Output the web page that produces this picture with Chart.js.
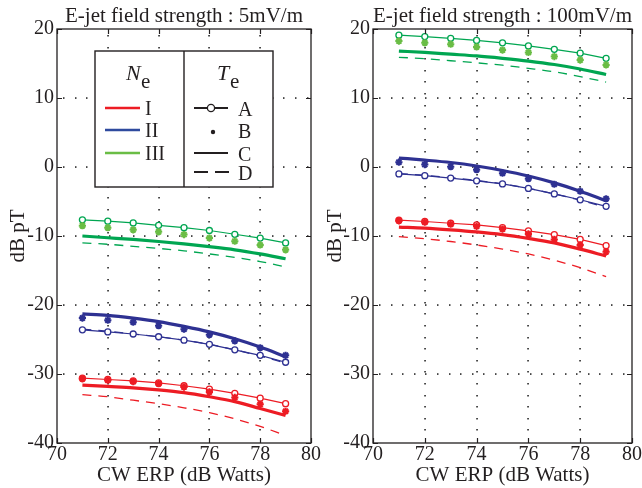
<!DOCTYPE html>
<html>
<head>
<meta charset="utf-8">
<script src="https://cdn.jsdelivr.net/npm/chart.js@4.4.1/dist/chart.umd.min.js"></script>
<style>
  html, body { margin: 0; padding: 0; background: #fff; }
  #wrap { position: relative; width: 642px; height: 488px; }
  canvas { position: absolute; top: 0; }
</style>
</head>
<body>
<div id="wrap">
  <canvas id="weak" width="321" height="488" style="left:0"></canvas>
  <canvas id="strong" width="321" height="488" style="left:321px"></canvas>
</div>
<script>
// x positions (CW ERP, dB Watts)
const erp = [71, 72, 73, 74, 75, 76, 77, 78, 79];
const xTicks = [70, 72, 74, 76, 78, 80];
const yTicks = [-40, -30, -20, -10, 0, 10, 20];
const neLabels = ['I', 'II', 'III'];
const teLabels = ['A', 'B', 'C', 'D'];

// E-jet 5 mV/m
const redA5   = [-30.6, -30.8, -31.0, -31.3, -31.7, -32.2, -32.8, -33.5, -34.3];
const redB5   = [-30.7, -30.9, -31.1, -31.4, -31.9, -32.6, -33.4, -34.4, -35.4];
const redC5   = [-31.6, -31.8, -32.0, -32.3, -32.7, -33.3, -34.0, -35.0, -36.0];
const redD5   = [-33.0, -33.3, -33.8, -34.3, -34.9, -35.6, -36.5, -37.6, -38.9];
const blueA5  = [-23.6, -23.9, -24.2, -24.6, -25.1, -25.7, -26.5, -27.3, -28.3];
const blueB5  = [-21.9, -22.2, -22.5, -23.0, -23.5, -24.3, -25.2, -26.2, -27.3];
const blueC5  = [-21.3, -21.5, -21.9, -22.4, -23.1, -23.9, -24.9, -26.1, -27.5];
const blueD5  = [-23.5, -23.8, -24.2, -24.6, -25.1, -25.7, -26.5, -27.4, -28.4];
const greenA5 = [-7.65, -7.85, -8.1, -8.45, -8.8, -9.2, -9.75, -10.3, -11.0];
const greenB5 = [-8.5, -8.8, -9.1, -9.4, -9.8, -10.3, -10.75, -11.3, -12.0];
const greenC5 = [-10.0, -10.25, -10.5, -10.8, -11.15, -11.55, -12.0, -12.6, -13.3];
const greenD5 = [-11.0, -11.2, -11.5, -11.8, -12.15, -12.6, -13.1, -13.7, -14.5];

// E-jet 100 mV/m
const redA100   = [-7.7, -7.9, -8.15, -8.4, -8.8, -9.25, -9.8, -10.5, -11.4];
const redB100   = [-7.8, -8.0, -8.3, -8.6, -9.0, -9.7, -10.5, -11.3, -12.3];
const redC100   = [-8.7, -8.85, -9.1, -9.4, -9.8, -10.35, -11.0, -11.9, -12.9];
const redD100   = [-10.1, -10.4, -10.8, -11.3, -11.9, -12.6, -13.5, -14.6, -15.9];
const blueA100  = [-1.0, -1.25, -1.6, -2.0, -2.45, -3.1, -3.9, -4.75, -5.7];
const blueB100  = [0.7, 0.35, 0.05, -0.4, -0.9, -1.7, -2.5, -3.5, -4.6];
const blueC100  = [1.3, 1.0, 0.65, 0.15, -0.5, -1.3, -2.3, -3.5, -4.9];
const blueD100  = [-0.95, -1.2, -1.55, -1.95, -2.45, -3.1, -3.9, -4.8, -5.85];
const greenA100 = [19.1, 18.9, 18.65, 18.35, 18.0, 17.55, 17.05, 16.5, 15.75];
const greenB100 = [18.25, 18.0, 17.8, 17.4, 16.95, 16.6, 16.0, 15.5, 14.8];
const greenC100 = [16.8, 16.6, 16.35, 16.1, 15.75, 15.35, 14.85, 14.2, 13.4];
const greenD100 = [15.9, 15.7, 15.4, 15.1, 14.75, 14.3, 13.8, 13.1, 12.3];

const lineColors = ['#ed1c24', '#2e3192', '#00a651'];
const starColors = ['#ed1c24', '#2e3192', '#6abd45'];
const legendColors = ['#ed1c24', '#2e4a9e', '#6abd45'];
const ink = '#231f20';
const serif = '"Liberation Serif", "DejaVu Serif", serif';

function pts(vals) {
  return erp.map((x, i) => ({ x: x, y: vals[i] }));
}

// groups: [[A,B,C,D] for I, II, III]
function buildSets(groups) {
  const sets = [];
  groups.forEach((g, n) => {
    const c = lineColors[n];
    sets.push({ label: neLabels[n] + ' D', data: pts(g[3]), borderColor: c, borderWidth: 1.3,
      borderDash: [9, 7], pointRadius: 0, cubicInterpolationMode: 'monotone', order: 4 });
    sets.push({ label: neLabels[n] + ' C', data: pts(g[2]), borderColor: c, borderWidth: 3.2,
      pointRadius: 0, cubicInterpolationMode: 'monotone', order: 3 });
    sets.push({ label: neLabels[n] + ' A', data: pts(g[0]), borderColor: c, borderWidth: 1.2,
      pointStyle: 'circle', pointRadius: 3, pointBorderWidth: 1.3, pointBorderColor: c,
      pointBackgroundColor: '#fff', order: 2 });
    sets.push({ label: neLabels[n] + ' B', data: pts(g[1]), showLine: false,
      pointStyle: 'star', pointRadius: 3.6, pointBorderWidth: 2, pointBorderColor: starColors[n],
      pointBackgroundColor: starColors[n], order: 1 });
  });
  return sets;
}

function drawLegend(ctx) {
  const L = 95, T = 51, R = 273, B = 187, mid = 184;
  ctx.fillStyle = '#fff';
  ctx.fillRect(L, T, R - L, B - T);
  ctx.strokeStyle = ink;
  ctx.lineWidth = 1.4;
  ctx.strokeRect(L, T, R - L, B - T);
  ctx.beginPath(); ctx.moveTo(mid, T); ctx.lineTo(mid, B); ctx.stroke();

  ctx.fillStyle = ink;
  ctx.textAlign = 'left';
  ctx.textBaseline = 'alphabetic';
  ctx.font = 'italic 22px ' + serif;
  ctx.fillText('N', 126, 80);
  ctx.fillText('T', 217, 80);
  ctx.font = '21px ' + serif;
  ctx.fillText('e', 141, 88);
  ctx.fillText('e', 230, 88);

  const rowY = [108, 130, 153, 172];
  ctx.font = '20px ' + serif;
  neLabels.forEach((lab, i) => {
    ctx.strokeStyle = legendColors[i];
    ctx.lineWidth = 2.6;
    ctx.beginPath(); ctx.moveTo(105, rowY[i]); ctx.lineTo(140, rowY[i]); ctx.stroke();
    ctx.fillText(lab, 145, rowY[i] + 7);
  });

  ctx.strokeStyle = ink;
  ctx.lineWidth = 2.2;
  ctx.beginPath(); ctx.moveTo(194, rowY[0]); ctx.lineTo(228, rowY[0]); ctx.stroke();
  ctx.fillStyle = '#fff';
  ctx.lineWidth = 1.3;
  ctx.beginPath(); ctx.arc(211, rowY[0], 3.6, 0, Math.PI * 2); ctx.fill(); ctx.stroke();
  ctx.fillStyle = ink;
  ctx.beginPath(); ctx.arc(213, rowY[1] + 2, 2.2, 0, Math.PI * 2); ctx.fill();
  ctx.lineWidth = 2.2;
  ctx.beginPath(); ctx.moveTo(194, rowY[2]); ctx.lineTo(228, rowY[2]); ctx.stroke();
  ctx.setLineDash([14, 7]);
  ctx.beginPath(); ctx.moveTo(194, rowY[3]); ctx.lineTo(229, rowY[3]); ctx.stroke();
  ctx.setLineDash([]);
  teLabels.forEach((lab, i) => {
    ctx.fillText(lab, 238, rowY[i] + 8);
  });
}

const decor = {
  id: 'decor',
  beforeDatasetsDraw(chart) {
    // dotted grid at the inner ticks, drawn as small squares
    const { ctx, chartArea: a } = chart;
    const x = chart.scales.x, y = chart.scales.y;
    const step = 11.6;
    ctx.save();
    ctx.fillStyle = '#1a1a1a';
    xTicks.slice(1, -1).forEach(v => {
      const px = Math.round(x.getPixelForValue(v));
      for (let py = a.top + 6; py < a.bottom - 2; py += step) ctx.fillRect(px - 0.7, Math.round(py), 1.5, 1.5);
    });
    yTicks.slice(1, -1).forEach(v => {
      const py = Math.round(y.getPixelForValue(v));
      for (let px = a.left + 6; px < a.right - 2; px += step) ctx.fillRect(Math.round(px), py - 0.7, 1.5, 1.5);
    });
    ctx.restore();
  },
  afterDraw(chart, args, opts) {
    const { ctx, chartArea: a } = chart;
    const x = chart.scales.x, y = chart.scales.y;
    ctx.save();
    ctx.strokeStyle = ink;
    ctx.lineWidth = 1.3;
    ctx.strokeRect(a.left, a.top, a.right - a.left, a.bottom - a.top);
    ctx.lineWidth = 1.2;
    ctx.beginPath();
    xTicks.forEach(v => {
      const px = Math.round(x.getPixelForValue(v)) + 0.5;
      ctx.moveTo(px, a.bottom); ctx.lineTo(px, a.bottom - 5);
      ctx.moveTo(px, a.top); ctx.lineTo(px, a.top + 5);
    });
    yTicks.forEach(v => {
      const py = Math.round(y.getPixelForValue(v)) + 0.5;
      ctx.moveTo(a.left, py); ctx.lineTo(a.left + 5, py);
      ctx.moveTo(a.right, py); ctx.lineTo(a.right - 5, py);
    });
    ctx.stroke();

    ctx.fillStyle = ink;
    ctx.font = '21px ' + serif;
    ctx.textAlign = 'center';
    ctx.textBaseline = 'alphabetic';
    ctx.fillText(opts.title, (a.left + a.right) / 2, 22);
    if (opts.legend) drawLegend(ctx);
    ctx.restore();
  }
};

function makeChart(id, title, groups, yWidth, rightPad, titlePad, withLegend) {
  return new Chart(document.getElementById(id), {
    type: 'line',
    data: { datasets: buildSets(groups) },
    plugins: [decor],
    options: {
      responsive: false,
      animation: false,
      devicePixelRatio: 1,
      layout: { padding: { top: 29, right: rightPad, left: 0, bottom: 0 } },
      plugins: {
        legend: { display: false },
        tooltip: { enabled: false },
        decor: { title: title, legend: withLegend }
      },
      scales: {
        x: {
          type: 'linear', min: 70, max: 80,
          afterFit(s) { s.height = 45; },
          ticks: { stepSize: 2, padding: 0, color: ink, font: { family: serif, size: 20 }, maxRotation: 0 },
          grid: { display: false, drawTicks: false },
          border: { display: false },
          title: { display: true, text: 'CW ERP (dB Watts)', color: ink,
                   font: { family: serif, size: 21 }, padding: { top: 0, bottom: 0 } }
        },
        y: {
          type: 'linear', min: -40, max: 20,
          afterFit(s) { s.width = yWidth; },
          ticks: { stepSize: 10, padding: 3, color: ink, font: { family: serif, size: 20 } },
          grid: { display: false, drawTicks: false },
          border: { display: false },
          title: { display: true, text: 'dB pT', color: ink,
                   font: { family: serif, size: 21 }, padding: { top: titlePad, bottom: 0 } }
        }
      }
    }
  });
}

makeChart('weak', 'E-jet field strength : 5mV/m', [
  [redA5, redB5, redC5, redD5],
  [blueA5, blueB5, blueC5, blueD5],
  [greenA5, greenB5, greenC5, greenD5]
], 57, 9, 6, true);

makeChart('strong', 'E-jet field strength : 100mV/m', [
  [redA100, redB100, redC100, redD100],
  [blueA100, blueB100, blueC100, blueD100],
  [greenA100, greenB100, greenC100, greenD100]
], 52, 10, 2, false);
</script>
</body>
</html>
